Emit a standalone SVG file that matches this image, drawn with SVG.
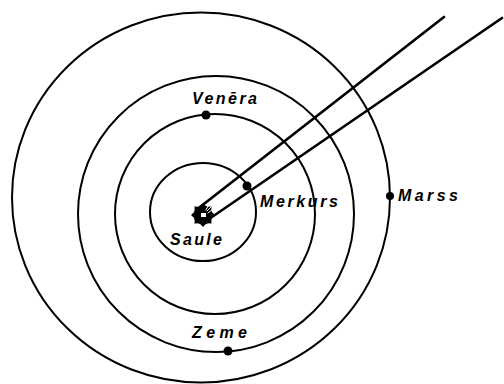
<svg xmlns="http://www.w3.org/2000/svg" width="504" height="384" viewBox="0 0 504 384">
<style>
.orbit{fill:none;stroke:#000;stroke-width:2}
.ray{fill:none;stroke:#000;stroke-width:2.7;stroke-linecap:round}
.dot{fill:#000}
.lbl{font-family:"Liberation Sans","DejaVu Sans",sans-serif;font-style:italic;font-weight:bold;font-size:16px;fill:#000}
</style>
<rect width="504" height="384" fill="#fff"/>
<g id="orbits">
<ellipse id="orbit-mars" class="orbit" cx="201" cy="197.5" rx="189" ry="185"/>
<circle id="orbit-zeme" class="orbit" cx="216" cy="214" r="138"/>
<circle id="orbit-venera" class="orbit" cx="215" cy="214" r="100"/>
<ellipse id="orbit-merkurs" class="orbit" cx="203" cy="212" rx="53" ry="49"/>
</g>
<g id="connectors">
<line class="ray" x1="200" y1="207" x2="444" y2="17"/>
<line class="ray" x1="212" y1="217" x2="502" y2="18"/>
</g>
<g id="saule">
<circle cx="203" cy="215" r="9.5" fill="#000"/>
<polygon fill="#000" points="215,215 211.3,218.4 211.5,223.5 206.4,223.3 203,227 199.6,223.3 194.5,223.5 194.7,218.4 191,215 194.7,211.6 194.5,206.5 199.6,206.7 203,203 206.4,206.7 211.5,206.5 211.3,211.6"/>
<rect x="201" y="213" width="5" height="4" fill="#fff"/>
<g stroke="#fff" stroke-width="1" stroke-linecap="round">
<line x1="207" y1="211" x2="211" y2="207"/>
<line x1="208" y1="213" x2="212" y2="210"/>
<line x1="206" y1="210" x2="208" y2="206"/>
</g>
<text class="lbl" x="170" y="245" textLength="52" lengthAdjust="spacing">Saule</text>
</g>
<g id="merkurs">
<circle class="dot" cx="247" cy="186" r="4.5"/>
<text class="lbl" x="260" y="207" textLength="78" lengthAdjust="spacing">Merkurs</text>
</g>
<g id="venera">
<circle class="dot" cx="206" cy="115" r="4.5"/>
<text class="lbl" x="192" y="104" textLength="65" lengthAdjust="spacing">Venēra</text>
</g>
<g id="zeme">
<circle class="dot" cx="228" cy="351" r="4.5"/>
<text class="lbl" x="192" y="338" textLength="55" lengthAdjust="spacing">Zeme</text>
</g>
<g id="marss">
<circle class="dot" cx="390" cy="196" r="4"/>
<text class="lbl" x="398" y="201" textLength="60" lengthAdjust="spacing">Marss</text>
</g>
</svg>
